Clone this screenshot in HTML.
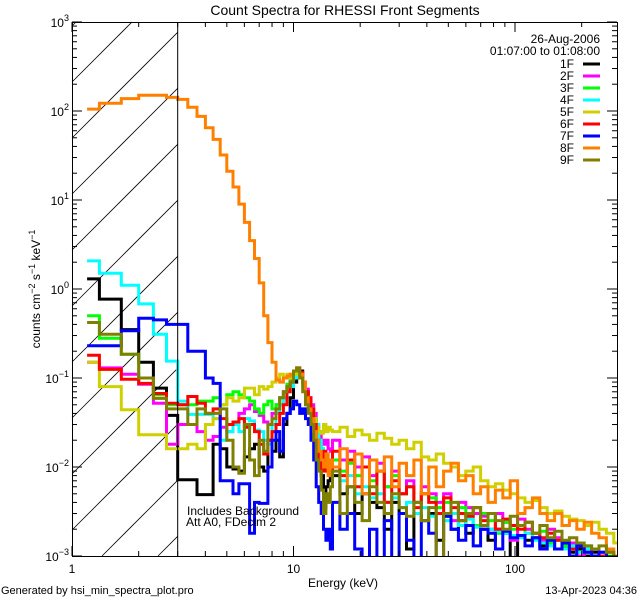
<!DOCTYPE html>
<html><head><meta charset="utf-8"><style>
html,body{margin:0;padding:0;width:640px;height:600px;overflow:hidden;background:#fff;}
svg{display:block;font-family:"Liberation Sans","DejaVu Sans",sans-serif;overflow:hidden;}
</style></head><body>
<svg id="chart" width="640" height="600" viewBox="0 0 640 600" xmlns="http://www.w3.org/2000/svg">
<rect width="640" height="600" fill="#fff"/>
<defs><clipPath id="plotclip"><rect x="72" y="22" width="545" height="534"/></clipPath></defs>
<text x="345" y="15" font-size="14" text-anchor="middle">Count Spectra for RHESSI Front Segments</text>
<g id="hatch"></g>
<g id="series" clip-path="url(#plotclip)"></g>
<g id="axes"></g>
<text transform="translate(40,289) rotate(-90)" font-size="12" text-anchor="middle">counts cm<tspan font-size="9" dy="-5">−2</tspan><tspan dy="5"> s</tspan><tspan font-size="9" dy="-5">−1</tspan><tspan dy="5"> keV</tspan><tspan font-size="9" dy="-5">−1</tspan></text>
<text x="343" y="587" font-size="12" text-anchor="middle">Energy (keV)</text>
<text x="1" y="594" font-size="11">Generated by hsi_min_spectra_plot.pro</text>
<text x="637" y="594" font-size="11" text-anchor="end">13-Apr-2023 04:36</text>
<text x="187" y="515" font-size="12">Includes Background</text>
<text x="186" y="526" font-size="12">Att A0, FDecim 2</text>
<text x="600" y="43" font-size="12" text-anchor="end">26-Aug-2006</text>
<text x="600" y="55" font-size="12" text-anchor="end">01:07:00 to 01:08:00</text>
<g id="legend"></g>
</svg>
<script>
const NS="http://www.w3.org/2000/svg";
const seriesNames=["1F","2F","3F","4F","5F","6F","7F","8F","9F"];
const seriesColors=["#000000","#ff00ff","#00ff00","#00ffff","#d0d000","#ff0000","#0000ff","#ff8000","#808000"];
const lowEdges=[1.17,1.33,1.67,2,2.33,2.67,3];
const s1F=[1.3,0.77,0.35,0.15,0.077,0.038,
0.0072,0.0072,0.0049,0.0049,0.018,0.016,0.01,0.0095,0.009,0.013,0.016,0.018,0.01,0.009,0.02,0.015,0.02,0.013,0.03,0.04,0.06,0.09,0.1,0.12,0.09,0.07,0.05,0.045,0.035,0.025,0.015,0.008,0.0035,0.006,0.007,0.008,
0.008,0.005,0.006,0.003,0.005,0.004,0.0035,0.002,0.004,0.003,0.0012,0.003,0.0025,0.003,0.0015,0.0028,0.002,0.0025,0.0018,0.0022,0.002,0.0015,0.002,0.0018,0.0009,0.0017,0.0015,0.0016,0.0013,0.0014,0.0012,0.0013,0.0011,0.0012,0.001,0.0011,0.0009,0.001,0.0008];
const s2F=[0.15,0.13,0.11,0.085,0.052,0.018,
0.03,0.03,0.025,0.02,0.022,0.028,0.025,0.03,0.04,0.045,0.05,0.042,0.038,0.032,0.03,0.04,0.05,0.06,0.07,0.08,0.095,0.11,0.12,0.11,0.09,0.075,0.06,0.05,0.04,0.03,0.025,0.02,0.018,0.02,0.016,0.015,
0.02,0.012,0.015,0.01,0.013,0.008,0.011,0.006,0.009,0.005,0.007,0.004,0.006,0.005,0.004,0.005,0.0025,0.004,0.0035,0.003,0.0028,0.002,0.003,0.0024,0.0015,0.0026,0.002,0.0018,0.0015,0.002,0.0016,0.0012,0.0014,0.001,0.0012,0.0009,0.0011,0.0008,0.0009];
const s3F=[0.5,0.28,0.185,0.1,0.065,0.05,
0.05,0.05,0.055,0.055,0.06,0.05,0.065,0.07,0.065,0.06,0.055,0.045,0.04,0.05,0.055,0.045,0.05,0.06,0.07,0.085,0.1,0.11,0.12,0.1,0.085,0.065,0.05,0.045,0.035,0.028,0.02,0.016,0.013,0.014,0.012,0.011,
0.012,0.009,0.011,0.008,0.01,0.007,0.009,0.006,0.008,0.005,0.006,0.004,0.005,0.0045,0.0035,0.004,0.003,0.0035,0.0028,0.0022,0.003,0.0025,0.0018,0.0024,0.002,0.0022,0.0018,0.0016,0.0019,0.0014,0.0015,0.0013,0.0012,0.0011,0.0013,0.001,0.0009,0.001,0.0008];
const s4F=[2.07,1.5,1.1,0.68,0.31,0.155,
0.055,0.039,0.039,0.039,0.035,0.02,0.025,0.03,0.025,0.035,0.033,0.026,0.025,0.02,0.018,0.03,0.04,0.05,0.06,0.07,0.08,0.1,0.11,0.1,0.08,0.06,0.05,0.045,0.035,0.03,0.02,0.016,0.012,0.011,0.01,0.009,
0.01,0.007,0.008,0.005,0.006,0.0045,0.005,0.004,0.0045,0.0035,0.004,0.003,0.0035,0.0028,0.003,0.0025,0.003,0.0022,0.0026,0.0021,0.0022,0.002,0.0019,0.0018,0.0017,0.0016,0.0018,0.0015,0.0014,0.0013,0.0015,0.0012,0.0013,0.0011,0.0012,0.001,0.0011,0.0009,0.001];
const s5F=[0.15,0.08,0.044,0.023,0.023,0.016,
0.016,0.018,0.016,0.03,0.035,0.05,0.06,0.055,0.06,0.077,0.077,0.065,0.08,0.075,0.08,0.09,0.1,0.11,0.1,0.11,0.1,0.11,0.115,0.1,0.08,0.065,0.055,0.045,0.035,0.028,0.025,0.024,0.03,0.025,0.028,0.026,
0.025,0.028,0.022,0.026,0.023,0.02,0.024,0.021,0.018,0.02,0.016,0.019,0.013,0.012,0.014,0.011,0.01,0.008,0.009,0.01,0.007,0.006,0.0065,0.0055,0.005,0.0045,0.004,0.0042,0.0035,0.003,0.0032,0.0028,0.0026,0.0025,0.0022,0.0024,0.002,0.0018,0.0014];
const s6F=[0.18,0.125,0.097,0.087,0.067,0.052,
0.05,0.062,0.052,0.04,0.045,0.035,0.03,0.032,0.035,0.028,0.03,0.025,0.018,0.014,0.02,0.025,0.03,0.04,0.05,0.07,0.09,0.12,0.13,0.115,0.09,0.07,0.06,0.045,0.03,0.02,0.012,0.009,0.015,0.009,0.012,0.008,
0.015,0.008,0.012,0.006,0.01,0.005,0.009,0.004,0.007,0.005,0.006,0.0035,0.005,0.004,0.003,0.0045,0.0035,0.003,0.0028,0.0035,0.0025,0.003,0.002,0.0026,0.0022,0.002,0.0024,0.0018,0.0016,0.0018,0.0015,0.0014,0.0012,0.0013,0.0011,0.0012,0.001,0.0011,0.0009];
const s7F=[0.23,0.23,0.34,0.47,0.45,0.4,
0.4,0.2,0.2,0.1,0.087,0.007,0.007,0.005,0.0065,0.0065,0.0018,0.004,0.0039,0.0039,0.01,0.02,0.025,0.015,0.035,0.04,0.045,0.055,0.05,0.04,0.045,0.035,0.03,0.02,0.012,0.006,0.004,0.003,0.002,0.0015,0.002,0.0012,
0.004,0.002,0.003,0.0012,0.0009,0.002,0.0008,0.0025,0.0009,0.003,0.0015,0.0008,0.0025,0.0018,0.0007,0.0028,0.002,0.0015,0.0022,0.0013,0.002,0.0018,0.0012,0.0019,0.0016,0.0017,0.0013,0.0016,0.0012,0.0015,0.0012,0.0014,0.001,0.0013,0.0011,0.001,0.0011,0.0009,0.0008];
const s8F=[105,122,138,150,150,142,
135,110,87,65,48,32,21,14,9,5.6,3.5,2.2,1.17,0.5,0.25,0.15,0.095,0.09,0.1,0.105,0.11,0.12,0.12,0.11,0.09,0.06,0.045,0.035,0.025,0.02,0.015,0.012,0.01,0.014,0.008,0.012,
0.01,0.016,0.006,0.014,0.005,0.012,0.009,0.013,0.006,0.011,0.008,0.012,0.005,0.01,0.006,0.009,0.011,0.007,0.008,0.005,0.006,0.004,0.0055,0.0045,0.007,0.003,0.0035,0.0045,0.003,0.0025,0.003,0.0022,0.0025,0.002,0.0024,0.0018,0.0016,0.0012,0.001];
const s9F=[0.42,0.31,0.185,0.1,0.059,0.045,
0.045,0.03,0.045,0.04,0.04,0.045,0.02,0.01,0.0085,0.03,0.012,0.008,0.02,0.015,0.03,0.035,0.045,0.06,0.07,0.08,0.09,0.12,0.13,0.1,0.07,0.05,0.04,0.03,0.02,0.012,0.009,0.0055,0.003,0.005,0.004,0.006,
0.009,0.003,0.006,0.004,0.0025,0.006,0.004,0.003,0.005,0.0035,0.0028,0.004,0.0025,0.0035,0.0008,0.003,0.004,0.0025,0.003,0.0035,0.0022,0.003,0.0025,0.002,0.0028,0.0022,0.0024,0.0018,0.0022,0.0016,0.0019,0.0015,0.0016,0.0014,0.0013,0.0012,0.0013,0.0011,0.0009];
const seriesValues=[s1F,s2F,s3F,s4F,s5F,s6F,s7F,s8F,s9F];
const yTickExps=[-3,-2,-1,0,1,2,3];
const xTickLabels=["1","10","100"];
const xTickValues=[1,10,100];

const edges=lowEdges.slice();
for(let i=1;i<=36;i++) edges.push(3+i/3);
for(let k=1;k<=39;k++) edges.push(15*Math.pow(1.08,k));

const X0=72,X1=617,Y0=556,Y1=22,XDEC=221.5;
const xs=e=>X0+Math.log10(e)*XDEC;
const ys=v=>{const lv=Math.log10(Math.max(v,1e-4));return Y0-(lv+3)*(Y0-Y1)/6;};
const XH=xs(3);

// hatch lines clipped manually to [X0,XH]x[Y1,Y0], slope 45deg: y = c - (x - X0)
const hatch=document.getElementById('hatch');
for(let k=-2;k<12;k++){
  const c=82+56*k;
  let xa=X0, ya=c;
  if(ya>Y0){xa=X0+(ya-Y0);ya=Y0;}
  let xb=XH, yb=c-(XH-X0);
  if(yb<Y1){xb=X0+(c-Y1);yb=Y1;}
  if(xa>=xb) continue;
  const l=document.createElementNS(NS,'line');
  
  
  l.setAttribute('x1',xa);l.setAttribute('y1',ya);
  l.setAttribute('x2',xb);l.setAttribute('y2',yb);
  l.setAttribute('stroke','#000');l.setAttribute('stroke-width','0.8');
  hatch.appendChild(l);
}
const vl=document.createElementNS(NS,'line');


vl.setAttribute('x1',XH);vl.setAttribute('x2',XH);vl.setAttribute('y1',Y1);vl.setAttribute('y2',Y0);
vl.setAttribute('stroke','#000');vl.setAttribute('stroke-width','1');
document.getElementById('axes').appendChild(vl);

const sg=document.getElementById('series');
seriesValues.forEach((vals,si)=>{
  let d='';
  for(let i=0;i<vals.length && i<edges.length-1;i++){
    const y=ys(vals[i]).toFixed(1);
    const xa=xs(edges[i]).toFixed(1), xb=Math.min(xs(edges[i+1]),X1).toFixed(1);
    d+=(i===0?'M':'L')+xa+','+y+'L'+xb+','+y;
  }
  const p=document.createElementNS(NS,'path');
  
  
  p.setAttribute('d',d);p.setAttribute('fill','none');
  p.setAttribute('stroke',seriesColors[si]);p.setAttribute('stroke-width','3');
  sg.appendChild(p);
});

const ax=document.getElementById('axes');
function ln(x1,y1,x2,y2,name){
  const l=document.createElementNS(NS,'line');
  
  
  l.setAttribute('x1',x1);l.setAttribute('y1',y1);l.setAttribute('x2',x2);l.setAttribute('y2',y2);
  l.setAttribute('stroke','#000');l.setAttribute('stroke-width','1');
  ax.appendChild(l);
}
const fr=document.createElementNS(NS,'rect');


fr.setAttribute('x',X0+0.5);fr.setAttribute('y',Y1+0.5);fr.setAttribute('width',X1-X0);fr.setAttribute('height',Y0-Y1);
fr.setAttribute('fill','none');fr.setAttribute('stroke','#000');
ax.appendChild(fr);
for(let dec=0;dec<3;dec++){
  for(let m=1;m<10;m++){
    const v=m*Math.pow(10,dec);const x=xs(v);
    if(x>X1)continue;
    const len=m===1?10:5;
    ln(x,Y0,x,Y0-len,'x-tick');ln(x,Y1,x,Y1+len,'x-tick-top');
  }
}
xTickValues.forEach((v,i)=>{
  const t=document.createElementNS(NS,'text');
  
  
  t.setAttribute('x',xs(v));t.setAttribute('y',Y0+17);t.setAttribute('font-size','12');t.setAttribute('text-anchor','middle');
  t.textContent=xTickLabels[i];ax.appendChild(t);
});
yTickExps.forEach(e=>{
  for(let m=1;m<10;m++){
    if(e===3&&m>1)continue;
    const y=ys(m*Math.pow(10,e));const len=m===1?10:5;
    ln(X0,y,X0+len,y,'y-tick');ln(X1,y,X1-len,y,'y-tick-right');
  }
  const t=document.createElementNS(NS,'text');
  
  
  t.setAttribute('x',X0-3);t.setAttribute('y',ys(Math.pow(10,e))+5);t.setAttribute('font-size','12');t.setAttribute('text-anchor','end');
  t.innerHTML='10<tspan font-size="9" dy="-6">'+(e<0?'−'+(-e):e)+'</tspan>';
  ax.appendChild(t);
});

const lg=document.getElementById('legend');
seriesNames.forEach((n,i)=>{
  const y=64+12*i;
  const t=document.createElementNS(NS,'text');
  
  
  t.setAttribute('x',574);t.setAttribute('y',y+4);t.setAttribute('font-size','12');t.setAttribute('text-anchor','end');
  t.textContent=n;lg.appendChild(t);
  const l=document.createElementNS(NS,'line');
  
  
  l.setAttribute('x1',583);l.setAttribute('x2',600);l.setAttribute('y1',y);l.setAttribute('y2',y);
  l.setAttribute('stroke',seriesColors[i]);l.setAttribute('stroke-width','3');
  lg.appendChild(l);
});
</script>
</body></html>
